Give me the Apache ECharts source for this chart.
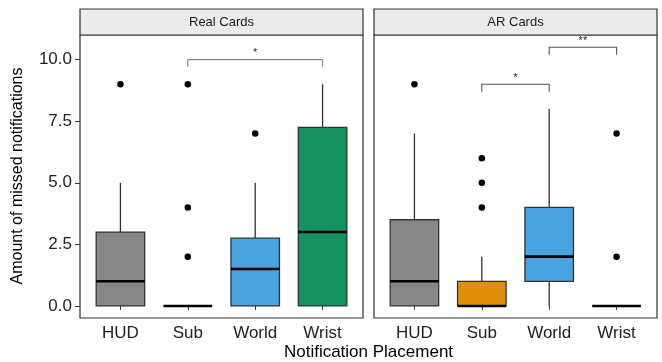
<!DOCTYPE html>
<html>
<head>
<meta charset="utf-8">
<script src="https://cdn.jsdelivr.net/npm/echarts@6/dist/echarts.min.js"></script>
<style>html,body{margin:0;padding:0;background:#fff}#c{width:662px;height:362px}</style>
</head>
<body>
<div id="c"></div>
<script>
const categories = ['HUD', 'Sub', 'World', 'Wrist'];
const panels = ['Real Cards', 'AR Cards'];
const yTicks = [0, 2.5, 5, 7.5, 10];
// [whiskerLow, q1, median, q3, whiskerHigh] per category
const realBoxes = [[0, 0, 1, 3, 5], [0, 0, 0, 0, 0], [0, 0, 1.5, 2.75, 5], [0, 0, 3, 7.25, 9]];
const arBoxes = [[0, 0, 1, 3.5, 7], [0, 0, 0, 1, 2], [0, 1, 2, 4, 8], [0, 0, 0, 0, 0]];
// outliers: [categoryIndex(1-based), value]
const realOutliers = [[1, 9], [2, 9], [2, 4], [2, 2], [3, 7]];
const arOutliers = [[1, 9], [2, 6], [2, 5], [2, 4], [4, 7], [4, 2]];
// significance brackets: [fromCat, toCat, yValue, label]
const realSig = [[2, 4, 10.0, '*']];
const arSig = [[2, 3, 9.0, '*'], [3, 4, 10.5, '**']];

const fillColors = ['#878787', '#E08E0B', '#48A3E0', '#17905F'];
const FONT = 'Liberation Sans, Arial, Helvetica, sans-serif';

function boxData(boxes) {
  return boxes.map((b, i) => [i + 1].concat(b));
}
function renderBox(params, api) {
  const x = api.value(0);
  const lo = api.value(1), q1 = api.value(2), med = api.value(3), q3 = api.value(4), hi = api.value(5);
  const hw = 0.36;
  const pL = api.coord([x - hw, q3]);
  const pR = api.coord([x + hw, q1]);
  const pc = api.coord([x, 0]);
  const yLo = api.coord([x, lo])[1], yHi = api.coord([x, hi])[1];
  const yQ1 = api.coord([x, q1])[1], yQ3 = api.coord([x, q3])[1], yMed = api.coord([x, med])[1];
  const stroke = '#333';
  const color = fillColors[params.dataIndex];
  return {
    type: 'group',
    children: [
      { type: 'line', shape: { x1: pc[0], y1: yQ3, x2: pc[0], y2: yHi }, style: { stroke: stroke, lineWidth: 1.3 } },
      { type: 'line', shape: { x1: pc[0], y1: yQ1, x2: pc[0], y2: yLo }, style: { stroke: stroke, lineWidth: 1.3 } },
      { type: 'rect', shape: { x: pL[0], y: yQ3, width: pR[0] - pL[0], height: yQ1 - yQ3 }, style: { fill: color, stroke: stroke, lineWidth: 1.3 } },
      { type: 'line', shape: { x1: pL[0], y1: yMed, x2: pR[0], y2: yMed }, style: { stroke: '#000', lineWidth: 2.6 } }
    ]
  };
}
function makeSigRenderer(color) {
  return function (params, api) {
    const x1 = api.value(0), x2 = api.value(1), y = api.value(2);
    const label = sigLabels[params.seriesId][params.dataIndex];
    const a = api.coord([x1, y]), b = api.coord([x2, y]);
    const drop = api.coord([x1, y - 0.3])[1];
    return {
      type: 'group',
      children: [
        { type: 'polyline', shape: { points: [[a[0], drop], a, b, [b[0], drop]] }, style: { stroke: color, lineWidth: 1.1, fill: null } },
        { type: 'text', style: { x: (a[0] + b[0]) / 2, y: a[1] - 1, text: label, align: 'center', verticalAlign: 'bottom', fill: '#222', font: '11px ' + FONT } }
      ]
    };
  };
}
const sigLabels = { sigReal: realSig.map(s => s[3]), sigAR: arSig.map(s => s[3]) };

const grids = [
  { left: 80, top: 35, width: 283, height: 283 },
  { left: 374, top: 35, width: 283, height: 283 }
];

const xAxes = grids.map((g, i) => ({
  type: 'value', gridIndex: i, min: 0.4, max: 4.6,
  splitLine: { show: false },
  axisLine: { show: false },
  axisTick: { show: true, length: 4, lineStyle: { color: '#333' }, customValues: [1, 2, 3, 4] },
  axisLabel: { show: true, customValues: [1, 2, 3, 4], formatter: v => categories[Math.round(v) - 1], fontSize: 17, color: '#222', fontFamily: FONT, margin: 7 }
}));
const yAxes = grids.map((g, i) => ({
  type: 'value', gridIndex: i, min: -0.49, max: 11.0,
  splitLine: { show: false },
  axisLine: { show: false },
  axisTick: { show: i === 0, length: 5, lineStyle: { color: '#333' }, customValues: yTicks },
  axisLabel: { show: i === 0, customValues: yTicks, formatter: v => v.toFixed(1), fontSize: 17, color: '#222', fontFamily: FONT, margin: 8 }
}));

const option = {
  animation: false,
  backgroundColor: '#fff',
  grid: grids.map(g => Object.assign({ show: true, borderColor: '#333', borderWidth: 1.2, backgroundColor: '#fff' }, g)),
  xAxis: xAxes,
  yAxis: yAxes,
  graphic: [
    { type: 'rect', shape: { x: 80, y: 9, width: 283, height: 26 }, style: { fill: '#EBEBEB', stroke: '#333', lineWidth: 1.2 } },
    { type: 'rect', shape: { x: 374, y: 9, width: 283, height: 26 }, style: { fill: '#EBEBEB', stroke: '#333', lineWidth: 1.2 } },
    { type: 'text', style: { x: 80 + 283 / 2, y: 22, text: panels[0], align: 'center', verticalAlign: 'middle', fill: '#1a1a1a', font: '13px ' + FONT } },
    { type: 'text', style: { x: 374 + 283 / 2, y: 22, text: panels[1], align: 'center', verticalAlign: 'middle', fill: '#1a1a1a', font: '13px ' + FONT } },
    { type: 'text', rotation: Math.PI / 2, x: 18, y: 176, style: { x: 0, y: 0, text: 'Amount of missed notifications', align: 'center', verticalAlign: 'middle', fill: '#000', font: '16px ' + FONT } },
    { type: 'text', style: { x: 368.5, y: 352, text: 'Notification Placement', align: 'center', verticalAlign: 'middle', fill: '#000', font: '17px ' + FONT } }
  ],
  series: [
    { type: 'custom', xAxisIndex: 0, yAxisIndex: 0, data: boxData(realBoxes), renderItem: renderBox, encode: { x: 0, y: [1, 2, 3, 4, 5] } },
    { type: 'custom', xAxisIndex: 1, yAxisIndex: 1, data: boxData(arBoxes), renderItem: renderBox, encode: { x: 0, y: [1, 2, 3, 4, 5] } },
    { type: 'scatter', xAxisIndex: 0, yAxisIndex: 0, data: realOutliers, symbolSize: 6.5, itemStyle: { color: '#000', opacity: 1 } },
    { type: 'scatter', xAxisIndex: 1, yAxisIndex: 1, data: arOutliers, symbolSize: 6.5, itemStyle: { color: '#000', opacity: 1 } },
    { id: 'sigReal', type: 'custom', xAxisIndex: 0, yAxisIndex: 0, data: realSig.map(s => [s[0], s[1], s[2]]), renderItem: makeSigRenderer('#8a8a8a'), encode: { x: [0, 1], y: 2 } },
    { id: 'sigAR', type: 'custom', xAxisIndex: 1, yAxisIndex: 1, data: arSig.map(s => [s[0], s[1], s[2]]), renderItem: makeSigRenderer('#555'), encode: { x: [0, 1], y: 2 } }
  ]
};
const chart = echarts.init(document.getElementById('c'), null, { renderer: 'canvas' });
chart.setOption(option);
</script>
</body>
</html>
